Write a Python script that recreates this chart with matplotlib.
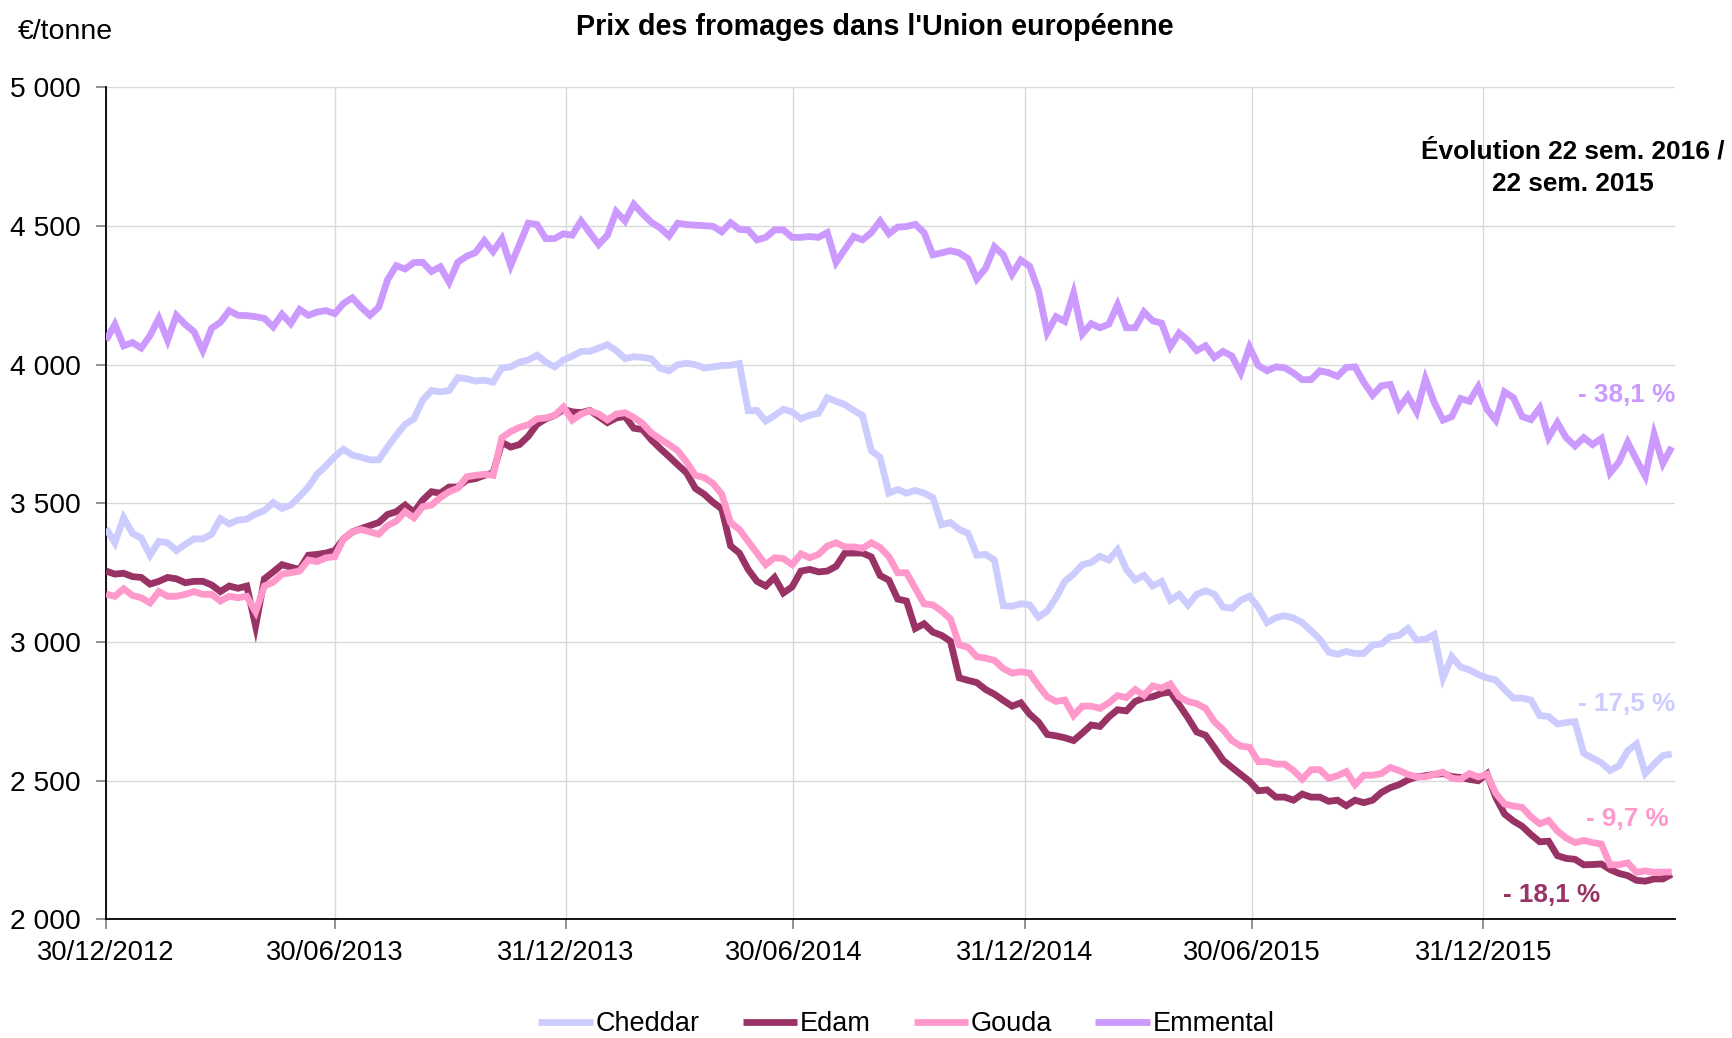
import matplotlib
matplotlib.use("Agg")
import matplotlib.pyplot as plt
import matplotlib.ticker as mticker
import pandas as pd

plt.rcParams['font.family'] = ['Liberation Sans', 'DejaVu Sans']

# ---------------- data ----------------
start_date = "2012-12-30"
n_weeks = 179
weeks = pd.date_range(start_date, periods=n_weeks, freq="7D")

cheddar = [
    3409, 3358, 3448, 3392, 3375, 3313, 3363, 3358, 3330, 3352, 3372, 3372, 3389, 3445, 3426, 3440, 3443, 3462, 3474, 3503,
    3482, 3494, 3525, 3559, 3606, 3635, 3669, 3695, 3674, 3666, 3657, 3657, 3703, 3746, 3785, 3805, 3872, 3907, 3902, 3907,
    3953, 3949, 3941, 3944, 3937, 3988, 3992, 4009, 4017, 4034, 4009, 3992, 4017, 4031, 4048, 4048, 4060, 4072, 4051, 4022,
    4029, 4026, 4021, 3987, 3978, 4000, 4005, 4000, 3988, 3992, 3997, 3998, 4004, 3834, 3835, 3797, 3817, 3839, 3830, 3805,
    3818, 3825, 3881, 3868, 3856, 3835, 3817, 3690, 3666, 3537, 3550, 3537, 3547, 3537, 3521, 3423, 3431, 3406, 3392, 3313,
    3316, 3296, 3131, 3129, 3138, 3134, 3090, 3112, 3160, 3219, 3245, 3279, 3287, 3309, 3296, 3333, 3262, 3224, 3240, 3202,
    3219, 3151, 3172, 3134, 3172, 3185, 3173, 3126, 3122, 3151, 3165, 3126, 3070, 3088, 3095, 3087, 3070, 3041, 3010, 2964,
    2956, 2966, 2959, 2959, 2990, 2993, 3019, 3024, 3049, 3007, 3010, 3027, 2871, 2947, 2910, 2900, 2883, 2871, 2863, 2829,
    2798, 2798, 2791, 2735, 2732, 2705, 2710, 2713, 2599, 2582, 2565, 2537, 2554, 2608, 2633, 2526, 2560, 2591, 2596,
]

edam = [
    3256, 3245, 3248, 3236, 3233, 3209, 3219, 3233, 3228, 3214, 3219, 3219, 3206, 3182, 3202, 3194, 3202, 3058, 3228, 3253,
    3279, 3270, 3262, 3313, 3316, 3321, 3330, 3372, 3397, 3409, 3420, 3431, 3460, 3470, 3494, 3468, 3512, 3542, 3537, 3559,
    3559, 3584, 3589, 3601, 3610, 3720, 3703, 3712, 3742, 3785, 3805, 3817, 3839, 3830, 3827, 3835, 3813, 3791, 3808, 3813,
    3771, 3766, 3729, 3698, 3669, 3639, 3610, 3554, 3533, 3504, 3480, 3347, 3321, 3262, 3219, 3202, 3233, 3177, 3199, 3256,
    3262, 3253, 3256, 3273, 3321, 3321, 3321, 3307, 3240, 3223, 3155, 3148, 3049, 3066, 3036, 3024, 3003, 2871, 2862, 2854,
    2829, 2812, 2790, 2769, 2781, 2740, 2712, 2667, 2662, 2655, 2645, 2672, 2701, 2696, 2730, 2756, 2752, 2786, 2798, 2803,
    2815, 2820, 2774, 2727, 2676, 2664, 2620, 2574, 2548, 2523, 2498, 2464, 2467, 2441, 2441, 2430, 2452, 2441, 2441, 2426,
    2430, 2410, 2430, 2421, 2430, 2458, 2475, 2486, 2503, 2514, 2518, 2523, 2526, 2515, 2512, 2505, 2500, 2525, 2440, 2380,
    2355, 2336, 2306, 2280, 2282, 2230, 2220, 2217, 2197, 2198, 2200, 2180, 2166, 2158, 2141, 2138, 2146, 2146, 2163,
]

gouda = [
    3173, 3165, 3192, 3168, 3160, 3141, 3182, 3165, 3165, 3172, 3182, 3172, 3172, 3148, 3165, 3160, 3165, 3109, 3202, 3216,
    3245, 3250, 3256, 3296, 3290, 3304, 3308, 3372, 3397, 3406, 3397, 3389, 3420, 3436, 3470, 3448, 3488, 3494, 3521, 3542,
    3555, 3596, 3601, 3605, 3601, 3737, 3759, 3774, 3783, 3805, 3808, 3817, 3847, 3800, 3822, 3834, 3822, 3801, 3822, 3827,
    3810, 3788, 3754, 3732, 3712, 3690, 3649, 3601, 3593, 3572, 3533, 3431, 3406, 3363, 3321, 3279, 3304, 3301, 3279, 3318,
    3304, 3316, 3346, 3358, 3343, 3343, 3338, 3358, 3341, 3308, 3250, 3250, 3194, 3138, 3134, 3112, 3083, 2990, 2981, 2947,
    2942, 2934, 2905, 2888, 2893, 2888, 2843, 2803, 2786, 2791, 2735, 2769, 2769, 2761, 2781, 2807, 2800, 2829, 2808, 2842,
    2834, 2849, 2803, 2786, 2778, 2761, 2713, 2684, 2645, 2625, 2621, 2569, 2569, 2560, 2560, 2537, 2506, 2540, 2540, 2509,
    2518, 2533, 2486, 2520, 2520, 2526, 2548, 2537, 2523, 2514, 2514, 2523, 2531, 2509, 2506, 2526, 2514, 2523, 2455, 2416,
    2409, 2404, 2370, 2345, 2357, 2319, 2294, 2277, 2285, 2277, 2272, 2197, 2197, 2204, 2170, 2175, 2170, 2171, 2171,
]

emmental = [
    4088, 4145, 4068, 4080, 4060, 4105, 4167, 4088, 4178, 4145, 4119, 4051, 4131, 4153, 4195, 4178, 4177, 4173, 4167, 4136,
    4182, 4148, 4199, 4178, 4190, 4195, 4184, 4221, 4241, 4207, 4178, 4207, 4306, 4357, 4345, 4368, 4369, 4336, 4353, 4297,
    4370, 4391, 4404, 4447, 4408, 4454, 4357, 4433, 4510, 4505, 4454, 4455, 4472, 4467, 4518, 4476, 4433, 4467, 4552, 4518,
    4578, 4544, 4513, 4493, 4464, 4510, 4505, 4503, 4501, 4499, 4479, 4512, 4488, 4486, 4450, 4459, 4486, 4486, 4459, 4459,
    4462, 4459, 4476, 4369, 4416, 4462, 4450, 4476, 4518, 4472, 4496, 4498, 4506, 4476, 4396, 4403, 4411, 4403, 4382, 4309,
    4348, 4425, 4396, 4326, 4377, 4355, 4268, 4116, 4173, 4156, 4258, 4111, 4148, 4133, 4146, 4216, 4133, 4133, 4190, 4158,
    4150, 4065, 4114, 4088, 4051, 4068, 4026, 4048, 4031, 3971, 4063, 3997, 3978, 3992, 3989, 3970, 3946, 3946, 3978, 3971,
    3958, 3990, 3992, 3936, 3890, 3924, 3929, 3844, 3887, 3830, 3949, 3864, 3800, 3813, 3878, 3868, 3920, 3839, 3800, 3902,
    3881, 3813, 3802, 3844, 3737, 3791, 3737, 3707, 3737, 3712, 3734, 3610, 3649, 3720, 3657, 3598, 3749, 3644, 3703,
]

series_names = ["Cheddar", "Edam", "Gouda", "Emmental"]
series_values = [cheddar, edam, gouda, emmental]
series_colors = ["#CCCCFF", "#993366", "#FF99CC", "#CC99FF"]

evolution_labels = ["- 17,5 %", "- 18,1 %", "- 9,7 %", "- 38,1 %"]

tick_dates = ["2012-12-30", "2013-06-30", "2013-12-31", "2014-06-30",
              "2014-12-31", "2015-06-30", "2015-12-31"]
y_ticks = [2000, 2500, 3000, 3500, 4000, 4500, 5000]

# ---------------- figure ----------------
fig = plt.figure(figsize=(17.33, 10.38), dpi=100)
ax = fig.add_axes([0.0612, 0.1142, 0.9056, 0.8017])

for name, vals, col in zip(series_names, series_values, series_colors):
    ax.plot(weeks, vals, color=col, lw=4.9, label=name,
            solid_joinstyle="miter", solid_capstyle="butt", zorder=3)

x0 = pd.Timestamp(start_date)
ax.set_xlim(x0, x0 + pd.Timedelta(days=1249))
ax.set_ylim(2000, 5000)

ax.set_yticks(y_ticks)
ax.yaxis.set_major_formatter(mticker.FuncFormatter(lambda v, p: f"{int(v):,}".replace(",", " ")))
tdates = pd.to_datetime(tick_dates)
ax.set_xticks(tdates)
ax.set_xticklabels([d.strftime("%d/%m/%Y") for d in tdates])

ax.grid(True, color="#D9D9D9", lw=1.0, zorder=0)
ax.set_axisbelow(True)
for s in ["top", "right"]:
    ax.spines[s].set_visible(False)
ax.spines["left"].set_color("black")
ax.spines["bottom"].set_color("black")
ax.spines["left"].set_linewidth(1.3)
ax.spines["bottom"].set_linewidth(1.3)
ax.tick_params(axis="y", direction="out", length=7, width=1.2, color="#808080",
               labelsize=20.3, pad=11)
ax.tick_params(axis="x", direction="out", length=7, width=1.2, color="#808080",
               labelsize=19.7, pad=8)

# percentage labels
label_pos = {
    "Emmental": (1.0, 0.6307, "right"),
    "Cheddar": (1.0, 0.259, "right"),
    "Gouda": (0.9959, 0.1208, "right"),
    "Edam": (0.9213, 0.0294, "center"),
}
for name, lab, col in zip(series_names, evolution_labels, series_colors):
    x, y, ha = label_pos[name]
    ax.text(x, y, lab, transform=ax.transAxes, color=col, fontsize=18.8,
            fontweight="bold", ha=ha, va="center", zorder=4)

ax.text(0.9347, 0.9035, "Évolution 22 sem. 2016 /\n22 sem. 2015", transform=ax.transAxes,
        fontsize=18.9, fontweight="bold", ha="center", va="center", linespacing=1.45, zorder=4)

fig.text(0.505, 0.974, "Prix des fromages dans l'Union européenne", fontsize=20.6,
         fontweight="bold", ha="center", va="center")
fig.text(0.0104, 0.969, "€/tonne", fontsize=20.5, ha="left", va="center")

leg = fig.legend(loc="center", bbox_to_anchor=(0.523, 0.0135), ncol=4, frameon=False,
                 fontsize=19.5, handlelength=2.0, handletextpad=0.1, columnspacing=1.6)

fig.savefig("out.png", dpi=100)
